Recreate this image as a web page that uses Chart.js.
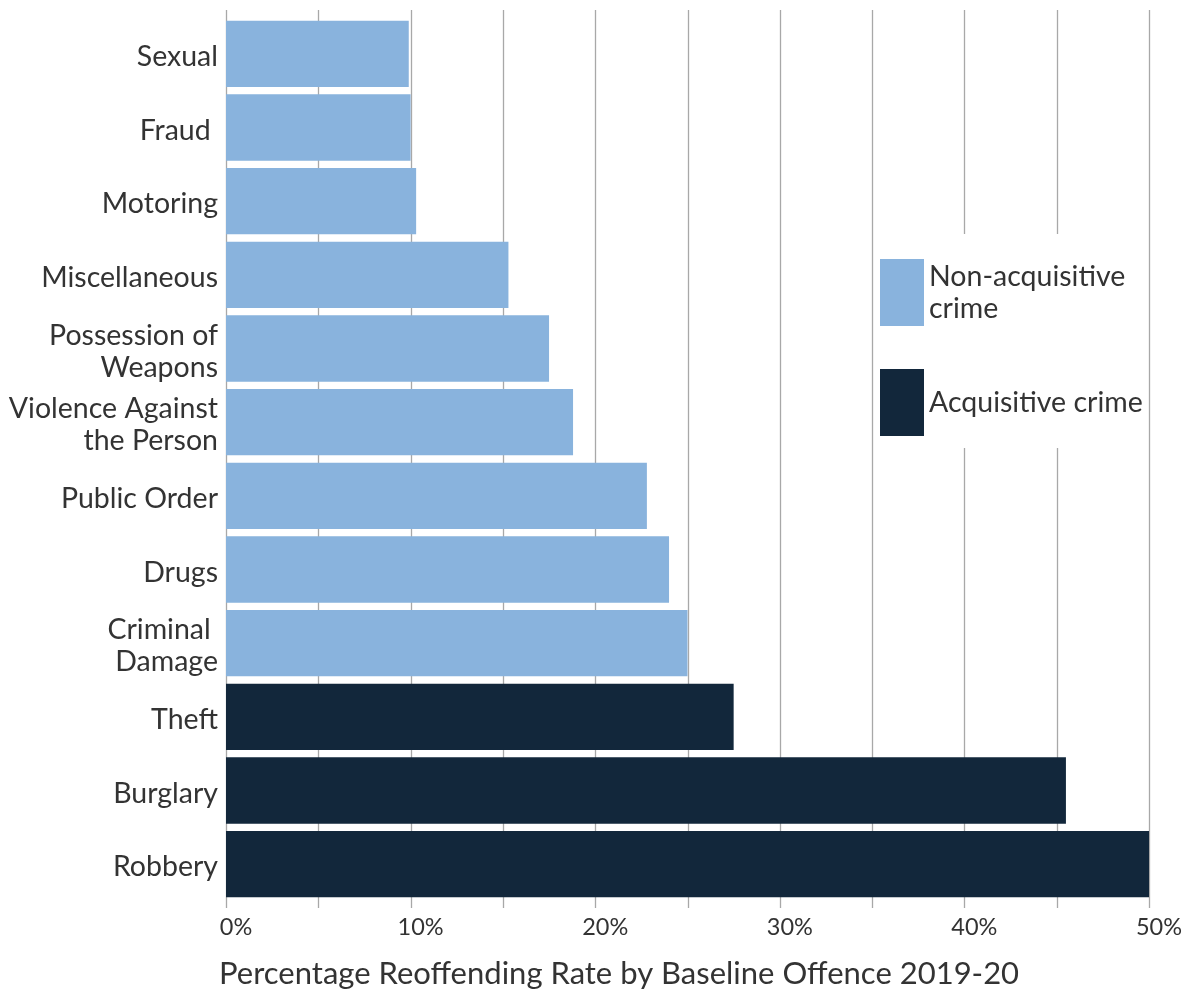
<!DOCTYPE html>
<html>
<head>
<meta charset="utf-8">
<script src="https://cdn.jsdelivr.net/npm/chart.js@4/dist/chart.umd.min.js"></script>
<style>
  html, body { margin: 0; padding: 0; background: #fff; }
  #wrap { width: 1192px; height: 992px; position: relative; }
</style>
</head>
<body>
<div id="wrap"><canvas id="reoffending"></canvas></div>
<script>
// offence categories, top to bottom
var offences = [
  'Sexual', 'Fraud ', 'Motoring', 'Miscellaneous', ['Possession of', 'Weapons'],
  ['Violence Against', 'the Person'], 'Public Order', 'Drugs', ['Criminal ', 'Damage'],
  'Theft', 'Burglary', 'Robbery'
];
// reoffending rate (%) per offence, split by group (null = other group)
var nonAcquisitive = [9.9, 10.0, 10.3, 15.3, 17.5, 18.8, 22.8, 24.0, 25.0, null, null, null];
var acquisitive    = [null, null, null, null, null, null, null, null, null, 27.5, 45.5, 50.0];

var groupNames = [['Non-acquisitive', 'crime'], ['Acquisitive crime']];
var groupColours = ['#89b3dd', '#12273b'];

var xTicksMax = 50;
var axisTitle = 'Percentage Reoffending Rate by Baseline Offence 2019-20';

var FONT = 'Lato, "Open Sans", sans-serif';
var TEXT = '#333333';

// vertical gridlines every 5%, sticking out a little above and below the bars
var gridPlugin = {
  id: 'vgrid',
  beforeDatasetsDraw: function(chart) {
    var ctx = chart.ctx, x = chart.scales.x, area = chart.chartArea;
    ctx.save();
    ctx.strokeStyle = '#a8a8a8';
    ctx.lineWidth = 1.3;
    for (var v = 0; v <= xTicksMax; v += 5) {
      var px = Math.round(x.getPixelForValue(v)) + 0.5;
      ctx.beginPath();
      ctx.moveTo(px, area.top - 7);
      ctx.lineTo(px, area.bottom + 7);
      ctx.stroke();
    }
    ctx.restore();
  }
};

// axis title under the tick labels, starting just left of the plot
var titlePlugin = {
  id: 'xTitle',
  afterDraw: function(chart) {
    var ctx = chart.ctx;
    ctx.save();
    ctx.font = '31px ' + FONT;
    ctx.fillStyle = TEXT;
    ctx.textBaseline = 'middle';
    ctx.fillText(axisTitle, chart.chartArea.left - 7, 974);
    ctx.restore();
  }
};

// legend box sitting inside the plot on the right
var legendPlugin = {
  id: 'sideLegend',
  afterDatasetsDraw: function(chart) {
    var ctx = chart.ctx;
    ctx.save();
    ctx.fillStyle = '#ffffff';
    ctx.fillRect(876, 234, 268, 214);
    var rows = [259, 369];
    var textY = [[277, 309], [403]];
    ctx.font = '28.5px ' + FONT;
    ctx.textBaseline = 'middle';
    for (var i = 0; i < groupNames.length; i++) {
      ctx.fillStyle = groupColours[i];
      ctx.fillRect(880, rows[i], 44, 67);
      ctx.fillStyle = TEXT;
      for (var j = 0; j < groupNames[i].length; j++) {
        ctx.fillText(groupNames[i][j], 929, textY[i][j]);
      }
    }
    ctx.restore();
  }
};

new Chart(document.getElementById('reoffending'), {
  type: 'bar',
  data: {
    labels: offences,
    datasets: [
      { label: 'Non-acquisitive crime', data: nonAcquisitive, backgroundColor: groupColours[0],
        barPercentage: 0.9, categoryPercentage: 1.0 },
      { label: 'Acquisitive crime', data: acquisitive, backgroundColor: groupColours[1],
        barPercentage: 0.9, categoryPercentage: 1.0 }
    ]
  },
  options: {
    indexAxis: 'y',
    responsive: true,
    maintainAspectRatio: false,
    animation: false,
    layout: { padding: { top: 17, right: 43, left: 0, bottom: 0 } },
    plugins: {
      legend: { display: false },
      tooltip: { enabled: false }
    },
    scales: {
      x: {
        stacked: true,
        min: 0,
        max: xTicksMax,
        grid: { display: false },
        border: { display: false },
        ticks: {
          stepSize: 5,
          padding: 4,
          labelOffset: 10,
          color: TEXT,
          font: { family: FONT, size: 23.5 },
          callback: function(v) { return v % 10 === 0 ? v + '%' : ''; },
          maxRotation: 0,
          autoSkip: false
        },
        afterFit: function(scale) { scale.height = 91; }
      },
      y: {
        stacked: true,
        grid: { display: false },
        border: { display: false },
        ticks: {
          color: TEXT,
          padding: 0,
          labelOffset: 3,
          font: { family: FONT, size: 28.5, lineHeight: 1.12 },
          autoSkip: false
        },
        afterFit: function(scale) { scale.width = 226; }
      }
    }
  },
  plugins: [gridPlugin, legendPlugin, titlePlugin]
});
</script>
</body>
</html>
